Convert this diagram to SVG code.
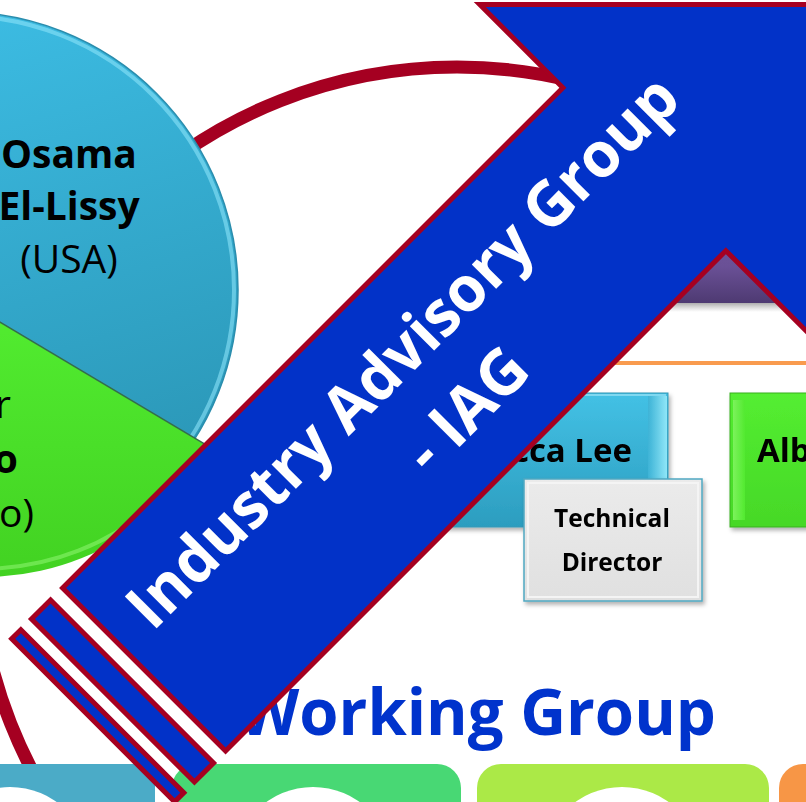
<svg xmlns="http://www.w3.org/2000/svg" width="806" height="802" viewBox="0 0 806 802">
<defs>
<style>
.t{font-family:"Open Sans","DejaVu Sans",sans-serif;}
.b{font-weight:700;}
.ring{fill:none;stroke:#A50021;stroke-width:13;}
.arr{fill:#0232C8;stroke:#A50021;stroke-width:5;stroke-linejoin:miter;}
</style>
<linearGradient id="gBlue" x1="0" y1="0" x2="0.3" y2="1">
<stop offset="0" stop-color="#3FC2EA"/><stop offset="1" stop-color="#2B97B7"/>
</linearGradient>
<linearGradient id="gGreen" x1="0" y1="0" x2="0" y2="1">
<stop offset="0" stop-color="#52EC30"/><stop offset="1" stop-color="#42D222"/>
</linearGradient>
<linearGradient id="gTeal" x1="0" y1="0" x2="0" y2="1">
<stop offset="0" stop-color="#43C1E5"/><stop offset="1" stop-color="#2C9DBF"/>
</linearGradient>
<linearGradient id="gTealR" x1="0" y1="0" x2="1" y2="0">
<stop offset="0" stop-color="#3DB3D6"/><stop offset="1" stop-color="#8FE6F8"/>
</linearGradient>
<linearGradient id="gLime" x1="0" y1="0" x2="0" y2="1">
<stop offset="0" stop-color="#54EE31"/><stop offset="1" stop-color="#46D827"/>
</linearGradient>
<linearGradient id="gLimeL" x1="0" y1="0" x2="1" y2="0">
<stop offset="0" stop-color="#7CF25C"/><stop offset="1" stop-color="#52EA30"/>
</linearGradient>
<linearGradient id="gGray" x1="0" y1="0" x2="0" y2="1">
<stop offset="0" stop-color="#EBEBEB"/><stop offset="1" stop-color="#E0E0E0"/>
</linearGradient>
<linearGradient id="gPurple" x1="0" y1="0" x2="0" y2="1">
<stop offset="0" stop-color="#7E66AB"/><stop offset="0.8" stop-color="#6A5096"/><stop offset="1" stop-color="#4E3A72"/>
</linearGradient>
<linearGradient id="gShadow" x1="0" y1="0" x2="0" y2="1">
<stop offset="0" stop-color="#777" stop-opacity="0.6"/><stop offset="1" stop-color="#999" stop-opacity="0"/>
</linearGradient>
<filter id="sh" x="-10%" y="-10%" width="130%" height="130%">
<feDropShadow dx="2" dy="3" stdDeviation="2" flood-color="#000" flood-opacity="0.3"/>
</filter>
</defs>
<rect width="806" height="802" fill="#FFFFFF"/>

<g id="ring">
<circle class="ring" cx="457" cy="547" r="480"/>
</g>

<g id="chair-box">
<rect x="560" y="120" width="260" height="183" fill="url(#gPurple)"/>
<rect x="560" y="303" width="260" height="9" fill="url(#gShadow)"/>
<line x1="540" y1="363" x2="806" y2="363" stroke="#F99B4E" stroke-width="4"/>
</g>

<g id="bottom-boxes">
<rect x="-30" y="764" width="185" height="70" fill="#4BABC7"/>
<circle cx="10" cy="867" r="80" fill="#FFFFFF"/>
<rect x="172" y="764" width="289" height="80" rx="24" fill="#48D874"/>
<circle cx="313" cy="867" r="80" fill="#FFFFFF"/>
<rect x="477" y="764" width="292" height="80" rx="24" fill="#ABE947"/>
<circle cx="622" cy="867" r="80" fill="#FFFFFF"/>
<rect x="779" y="764" width="80" height="80" rx="24" fill="#F79646"/>
</g>

<g id="rebecca" filter="url(#sh)">
<rect x="430" y="393" width="238" height="134" fill="url(#gTeal)" stroke="#3596B4" stroke-width="1"/>
<rect x="648" y="396" width="19" height="128" fill="url(#gTealR)"/>
<line x1="433" y1="395" x2="666" y2="395" stroke="#7FD8F0" stroke-width="2"/>
<text class="t b" x="632" y="462" font-size="33" text-anchor="end" fill="#000">cca Lee</text>
</g>

<g id="alb" filter="url(#sh)">
<rect x="730" y="393" width="100" height="134" fill="url(#gLime)" stroke="#3BAF20" stroke-width="1"/>
<rect x="733" y="400" width="12" height="120" fill="url(#gLimeL)"/>
<text class="t b" x="757" y="462" font-size="33" fill="#000">Alb</text>
</g>

<g id="technical-director" filter="url(#sh)">
<rect x="524" y="479" width="178" height="122" fill="url(#gGray)" stroke="#4FA8C2" stroke-width="1.5"/>
<rect x="528" y="483" width="170" height="114" fill="none" stroke="#F4F4F4" stroke-width="2"/>
<text class="t b" x="612" y="527" font-size="24.5" text-anchor="middle" fill="#000">Technical</text>
<text class="t b" x="612" y="571" font-size="24.5" text-anchor="middle" fill="#000">Director</text>
</g>

<g id="working-group">
<text class="t b" x="716" y="735" font-size="65" text-anchor="end" fill="#0033CC" textLength="478" lengthAdjust="spacingAndGlyphs">Working Group</text>
</g>

<g id="pie">
<circle cx="-40" cy="290" r="278" fill="url(#gBlue)" stroke="#2A8DAD" stroke-width="1.5"/>
<circle cx="-40" cy="290" r="274" fill="none" stroke="#8BE2F8" stroke-width="4" opacity="0.6"/>
<path d="M -17,312 L 210.7,447.7 A 265 265 0 0 1 -282,312 Z" fill="url(#gGreen)"/>
<path d="M 205,445 A 261 261 0 0 1 -278,312" fill="none" stroke="#8AF46C" stroke-width="4" opacity="0.6"/>
<line x1="-17" y1="312" x2="210.7" y2="447.7" stroke="#356E4A" stroke-width="1.5"/>
<text class="t b" x="69" y="168" font-size="39" text-anchor="middle" fill="#000">Osama</text>
<text class="t b" x="69" y="220" font-size="39" text-anchor="middle" fill="#000">El-Lissy</text>
<text class="t" x="69" y="273" font-size="39" text-anchor="middle" fill="#000">(USA)</text>
<text class="t" x="11" y="418" font-size="39" text-anchor="end" fill="#000">r</text>
<text class="t b" x="18" y="473" font-size="39" text-anchor="end" fill="#000">o</text>
<text class="t" x="34" y="527" font-size="39" text-anchor="end" fill="#000">o)</text>
</g>

<g id="iag-arrow" transform="rotate(-45)">
<rect class="arr" x="-443.5" y="460" width="13" height="230.5"/>
<rect class="arr" x="-415.5" y="460" width="27" height="230.5"/>
<path class="arr" d="M -371.5,460 L 336,460 L 336,342.5 L 568.5,575 L 336,807.5 L 336,690.5 L -371.5,690.5 Z"/>
<text class="t b" x="36" y="555" font-size="63" text-anchor="middle" fill="#FFFFFF" textLength="750" lengthAdjust="spacingAndGlyphs">Industry Advisory Group</text>
<text class="t b" x="40" y="641" font-size="63" text-anchor="middle" fill="#FFFFFF">- IAG</text>
</g>
</svg>
